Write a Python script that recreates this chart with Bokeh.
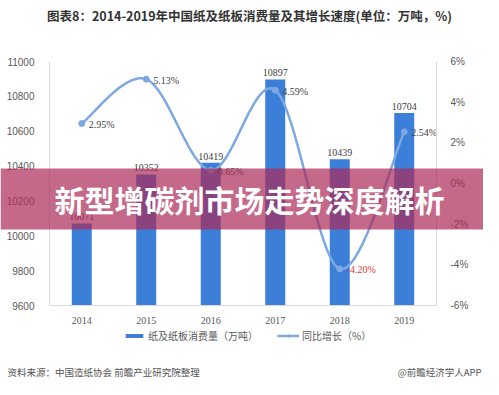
from bokeh.plotting import figure
from bokeh.models import (Range1d, LinearAxis, FixedTicker, PrintfTickFormatter,
                          Label, BoxAnnotation, Legend, LegendItem, ColumnDataSource)
from bokeh.embed import file_html
from bokeh.resources import INLINE
from bokeh.core.properties import value

# ---- data ----
years = ["2014", "2015", "2016", "2017", "2018", "2019"]
consumption = [10071, 10352, 10419, 10897, 10439, 10704]   # 万吨
growth = [2.95, 5.13, 0.65, 4.59, -4.20, 2.54]               # %
growth_labels = ["2.95%", "5.13%", "0.65%", "4.59%", "-4.20%", "2.54%"]
left_ticks = [9600, 9800, 10000, 10200, 10400, 10600, 10800, 11000]
right_ticks = [-6, -4, -2, 0, 2, 4, 6]

title_text = "图表8：2014-2019年中国纸及纸板消费量及其增长速度(单位：万吨，%)"
banner_text = "新型增碳剂市场走势深度解析"
source_text = "资料来源：中国造纸协会 前瞻产业研究院整理"
credit_text = "@前瞻经济学人APP"
legend_labels = ["纸及纸板消费量（万吨）", "同比增长（%）"]

# ---- layout (figure pixels) ----
W, H = 483, 379
OFF = 0
FL, FR, FT, FB = 49, 436, 61, 305   # plot area inside the canvas
n = len(years)
kx = (FR - FL) / n
ky = (FB - FT) / (left_ticks[-1] - left_ticks[0])
kp = (FB - FT) / (right_ticks[-1] - right_ticks[0])


def sx(img_x):
    return img_x - OFF


def sy(img_y):
    return H - (img_y - OFF)


p = figure(width=W, height=H, output_backend="svg", toolbar_location=None,
           x_range=Range1d(-FL / kx, (W - FL) / kx),
           y_range=Range1d(left_ticks[0] - (H - FB) / ky, left_ticks[-1] + FT / ky),
           x_axis_location=None, y_axis_location=None)
p.min_border = 0
p.min_border_left = 0
p.min_border_right = 0
p.min_border_top = 0
p.min_border_bottom = 0
p.outline_line_color = None
p.xgrid.visible = False
p.ygrid.visible = False
p.background_fill_color = "white"
p.border_fill_color = "white"
p.extra_y_ranges = {"pct": Range1d(right_ticks[0] - (H - FB) / kp, right_ticks[-1] + FT / kp)}

xs = [i + 0.5 for i in range(n)]

AX = "#d9d9d9"
TICK = "#595959"


def style(ax, font):
    ax.axis_line_color = AX
    ax.major_tick_line_color = None
    ax.minor_tick_line_color = None
    ax.major_label_text_font = font
    ax.major_label_text_font_size = "10px"
    ax.major_label_text_color = TICK


xaxis = LinearAxis(ticker=FixedTicker(ticks=xs), fixed_location=left_ticks[0], bounds=(0, n),
                   major_label_overrides={x: y for x, y in zip(xs, years)})
style(xaxis, "Liberation Serif")
xaxis.major_label_standoff = 5
p.add_layout(xaxis, "below")

yaxis = LinearAxis(ticker=FixedTicker(ticks=left_ticks), fixed_location=0,
                   bounds=(left_ticks[0], left_ticks[-1]))
style(yaxis, "Liberation Sans")
yaxis.major_label_standoff = 9
p.add_layout(yaxis, "left")

raxis = LinearAxis(y_range_name="pct", ticker=FixedTicker(ticks=right_ticks), fixed_location=n,
                   bounds=(right_ticks[0], right_ticks[-1]),
                   formatter=PrintfTickFormatter(format="%d%%"))
style(raxis, "Liberation Sans")
raxis.major_label_standoff = 8
p.add_layout(raxis, "right")

BAR = "#3b7fd9"
LINE = "#7ea8e2"

bars = p.vbar(x=xs, top=consumption, bottom=left_ticks[0], width=0.31,
              fill_color=BAR, line_color=None)

# smooth curve (Excel-like Bezier smoothing, computed in pixel space)
pts = [(x * kx, g * kp) for x, g in zip(xs, growth)]
cx, cy = [], []
for i in range(n - 1):
    p0 = pts[i - 1] if i > 0 else pts[i]
    p1 = pts[i]
    p2 = pts[i + 1]
    p3 = pts[i + 2] if i + 2 < n else pts[i + 1]
    c1 = (p1[0] + (p2[0] - p0[0]) / 6, p1[1] + (p2[1] - p0[1]) / 6)
    c2 = (p2[0] - (p3[0] - p1[0]) / 6, p2[1] - (p3[1] - p1[1]) / 6)
    for k in range(40):
        t = k / 40
        mt = 1 - t
        bx = mt**3 * p1[0] + 3 * mt**2 * t * c1[0] + 3 * mt * t**2 * c2[0] + t**3 * p2[0]
        by = mt**3 * p1[1] + 3 * mt**2 * t * c1[1] + 3 * mt * t**2 * c2[1] + t**3 * p2[1]
        cx.append(bx / kx)
        cy.append(by / kp)
cx.append(pts[-1][0] / kx)
cy.append(pts[-1][1] / kp)

line = p.line(cx, cy, y_range_name="pct", line_color=LINE, line_width=2.5)
dots = p.scatter(xs, growth, y_range_name="pct", size=6, fill_color=LINE, line_color=LINE)

# value labels
p.text(x=xs, y=consumption, text=[str(v) for v in consumption], y_offset=-3,
       text_font=value("Liberation Serif"), text_font_size="10px", text_color="#404040",
       text_align="center", text_baseline="bottom")
gsrc = ColumnDataSource(dict(x=xs, y=growth, t=growth_labels,
                             c=["#e03c31" if g < 0 else "#404040" for g in growth]))
p.text(x="x", y="y", text="t", source=gsrc, y_range_name="pct", x_offset=7, y_offset=1,
       text_font=value("Liberation Serif"), text_font_size="10px", text_color="c",
       text_align="left", text_baseline="middle")

# legend
legend = Legend(items=[LegendItem(label=legend_labels[0], renderers=[bars]),
                       LegendItem(label=legend_labels[1], renderers=[line, dots])],
                orientation="horizontal", location=(sx(123), sy(343)))
legend.background_fill_alpha = 0
legend.border_line_color = None
legend.label_text_font = "Noto Sans CJK SC"
legend.label_text_font_size = "10px"
legend.label_text_color = TICK
legend.glyph_width = 22
legend.glyph_height = 5
legend.label_height = 12
legend.label_standoff = 3
legend.spacing = 19
legend.padding = 0
legend.margin = 0
p.add_layout(legend, "center")

# title
p.add_layout(Label(x=sx(249), y=sy(15), x_units="screen", y_units="screen", text=title_text,
                   text_font="Noto Sans CJK SC", text_font_style="bold", text_font_size="12.5px",
                   text_color="#333333", text_align="center", text_baseline="middle"))

# footer
p.add_layout(Label(x=sx(7), y=sy(371), x_units="screen", y_units="screen", text=source_text,
                   text_font="Noto Sans CJK SC", text_font_size="9.5px",
                   text_color="#555555", text_align="left", text_baseline="middle"))
p.add_layout(Label(x=W - 2, y=sy(371), x_units="screen", y_units="screen", text=credit_text,
                   text_font="Noto Sans CJK SC", text_font_size="9.5px",
                   text_color="#555555", text_align="right", text_baseline="middle"))

# banner overlay
p.add_layout(BoxAnnotation(left=0, right=W, bottom=sy(229), top=sy(168),
                           left_units="screen", right_units="screen",
                           bottom_units="screen", top_units="screen",
                           fill_color="#ac2a58", fill_alpha=0.7, line_color=None, level="overlay"))
p.add_layout(Label(x=sx(249), y=sy(198), x_units="screen", y_units="screen", text=banner_text,
                   text_font="Noto Sans CJK SC", text_font_style="bold", text_font_size="30px",
                   text_color="white", text_align="center", text_baseline="middle", level="overlay"))

open("out.html", "w").write(file_html(p, INLINE))
